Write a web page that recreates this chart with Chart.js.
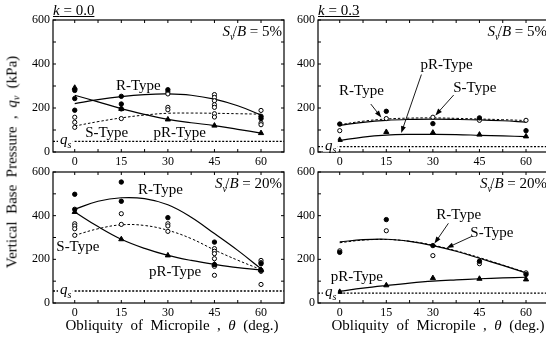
<!DOCTYPE html>
<html>
<head>
<meta charset="utf-8">
<script src="https://cdn.jsdelivr.net/npm/chart.js@4.4.1/dist/chart.umd.min.js"></script>
<style>
  html, body { margin: 0; padding: 0; background: #fff; }
  body {
    position: relative; width: 546px; height: 338px; overflow: hidden;
    font-family: "Liberation Serif", "Times New Roman", serif; color: #000;
  }
  canvas { position: absolute; }
  .txt { position: absolute; font-size: 15px; white-space: pre; line-height: 1; }
  .txt sub { font-size: 10px; vertical-align: -3px; }
  .klab { text-decoration: underline; }
  #ytitle { left: 13px; top: 162px; transform: translate(-50%, -50%) rotate(-90deg); }
  .xtitle { top: 318px; transform: translateX(-50%); }
</style>
</head>
<body>
<canvas id="tl" width="290" height="170" style="left:0;top:0"></canvas>
<canvas id="tr" width="290" height="170" style="left:265px;top:0"></canvas>
<canvas id="bl" width="290" height="168" style="left:0;top:152px"></canvas>
<canvas id="br" width="290" height="168" style="left:265px;top:152px"></canvas>

<div class="txt klab" style="left:53px;top:3px"><i>k</i> = 0.0</div>
<div class="txt klab" style="left:318px;top:3px"><i>k</i> = 0.3</div>
<div class="txt" id="ytitle">Vertical  Base  Pressure  ,  <i>q</i><sub><i>v</i></sub>  (kPa)</div>
<div class="txt xtitle" style="left:172px">Obliquity  of  Micropile  ,  <i>θ</i>  (deg.)</div>
<div class="txt xtitle" style="left:438px">Obliquity  of  Micropile  ,  <i>θ</i>  (deg.)</div>

<script>
// ---------- Data ----------
const curveAngles = [0, 7.5, 15, 22.5, 30, 37.5, 45, 52.5, 60];
const xTickVals = [0, 7.5, 15, 22.5, 30, 37.5, 45, 52.5, 60];
const yTickVals = [0, 100, 200, 300, 400, 500, 600];

// k = 0.0, Sv/B = 5%
const tlRPoints = [[0, 280], [0, 243], [0, 190], [15, 253], [15, 218], [15, 196], [30, 283], [60, 162], [60, 152]];
const tlSPoints = [[0, 158], [0, 135], [0, 112], [15, 152], [30, 273], [30, 264], [30, 203], [30, 192],
  [45, 261], [45, 248], [45, 233], [45, 215], [45, 203], [45, 174], [45, 159], [60, 189], [60, 132], [60, 124]];
const tlPRPoints = [[0, 292], [15, 196], [30, 148], [45, 120], [60, 86]];
const tlRCurve = [220, 238, 252, 261, 264, 258, 240, 210, 168];
const tlSCurve = [118, 138, 155, 168, 176, 177, 176, 174, 172];
const tlPRCurve = [258, 228, 197, 171, 148, 133, 120, 103, 86];
const tlQs = 48;

// k = 0.3, Sv/B = 5%
const trRPoints = [[0, 127], [15, 185], [30, 129], [45, 155], [60, 97]];
const trSPoints = [[0, 97], [15, 152], [30, 158], [45, 144], [60, 144]];
const trPRPoints = [[0, 55], [15, 91], [30, 88], [45, 79], [60, 71]];
const trRCurve = [121, 135, 144, 148, 149, 148, 146, 142, 136];
const trSCurve = [124, 140, 150, 154, 155, 153, 150, 147, 143];
const trPRCurve = [52, 68, 77, 80, 80, 79, 76, 73, 70];
const trQs = 24;

// k = 0.0, Sv/B = 20%
const blRPoints = [[0, 498], [0, 429], [15, 554], [15, 466], [30, 391], [45, 279], [45, 176], [60, 180], [60, 150]];
const blSPoints = [[0, 363], [0, 353], [0, 340], [0, 310], [15, 409], [15, 360], [30, 363], [30, 353], [30, 328],
  [45, 249], [45, 237], [45, 226], [45, 203], [45, 168], [45, 127], [60, 195], [60, 185], [60, 145], [60, 85]];
const blPRPoints = [[0, 417], [15, 292], [30, 218], [45, 176], [60, 152]];
const blRCurve = [429, 466, 482, 478, 450, 393, 318, 241, 157];
const blSCurve = [310, 340, 358, 355, 333, 295, 243, 196, 153];
const blPRCurve = [417, 350, 292, 250, 218, 195, 177, 162, 152];
const blQs = 55;

// k = 0.3, Sv/B = 20%
const brRPoints = [[0, 232], [15, 382], [30, 263], [45, 191], [60, 131]];
const brSPoints = [[0, 239], [15, 331], [30, 217], [45, 180], [60, 138]];
const brPRPoints = [[0, 51], [15, 81], [30, 114], [45, 111], [60, 108]];
const brRCurve = [280, 290, 292, 282, 263, 237, 205, 172, 138];
const brSCurve = [276, 288, 291, 283, 265, 239, 208, 174, 140];
const brPRCurve = [54, 68, 80, 91, 100, 106, 111, 115, 118];
const brQs = 45;

const X_MIN = -7, X_MAX = 67.4;
const FONT = '"Liberation Serif", "Times New Roman", serif';

// ---------- Helpers ----------
const pts = arr => arr.map(([x, y]) => ({ x, y }));
const curve = vals => vals.map((y, i) => ({ x: curveAngles[i], y }));
const plain = t => [{ t }];
const svb = pct => [{ t: 'S', i: 1 }, { t: 'v', i: 1, sub: 1 }, { t: '/' }, { t: 'B', i: 1 }, { t: ' = ' + pct }];
const qsRuns = [{ t: 'q', i: 1 }, { t: 's', i: 1, sub: 1 }];

function runFont(r) {
  return (r.i ? 'italic ' : '') + (r.sub ? '10px ' : '15px ') + FONT;
}

function drawRuns(ctx, runs, x, y, align, bg) {
  let w = 0;
  runs.forEach(r => {
    ctx.font = runFont(r);
    r.w = ctx.measureText(r.t).width * (r.sub ? 0.6 : 1);
    w += r.w;
  });
  let cx = align === 'right' ? x - w : align === 'center' ? x - w / 2 : x;
  if (bg) {
    ctx.fillStyle = '#fff';
    ctx.fillRect(cx - 2, y - 6, w + 5, 12);
  }
  ctx.fillStyle = '#000';
  ctx.textBaseline = 'middle';
  ctx.textAlign = 'left';
  runs.forEach(r => {
    ctx.font = runFont(r);
    ctx.fillText(r.t, cx, y + (r.sub ? 5 : 0));
    cx += r.w;
  });
}

function drawArrow(ctx, x1, y1, x2, y2) {
  const ang = Math.atan2(y2 - y1, x2 - x1);
  ctx.beginPath();
  ctx.moveTo(x1, y1);
  ctx.lineTo(x2 - 4 * Math.cos(ang), y2 - 4 * Math.sin(ang));
  ctx.stroke();
  ctx.beginPath();
  ctx.moveTo(x2, y2);
  ctx.lineTo(x2 - 7 * Math.cos(ang) + 2.5 * Math.sin(ang), y2 - 7 * Math.sin(ang) - 2.5 * Math.cos(ang));
  ctx.lineTo(x2 - 7 * Math.cos(ang) - 2.5 * Math.sin(ang), y2 - 7 * Math.sin(ang) + 2.5 * Math.cos(ang));
  ctx.closePath();
  ctx.fill();
}

// frame, inward ticks, labels and arrows
function framePlugin(notes) {
  return {
    id: 'frame',
    afterDatasetsDraw(chart) {
      const { ctx, chartArea: a, scales: { x, y } } = chart;
      ctx.save();
      ctx.strokeStyle = '#000';
      ctx.fillStyle = '#000';
      ctx.lineWidth = 1.2;
      ctx.strokeRect(a.left, a.top, a.right - a.left, a.bottom - a.top);
      ctx.lineWidth = 1;
      ctx.beginPath();
      x.ticks.forEach(t => {
        const px = x.getPixelForValue(t.value);
        ctx.moveTo(px, a.bottom); ctx.lineTo(px, a.bottom - 3);
        ctx.moveTo(px, a.top); ctx.lineTo(px, a.top + 3);
      });
      y.ticks.forEach(t => {
        const py = y.getPixelForValue(t.value);
        ctx.moveTo(a.left, py); ctx.lineTo(a.left + 3, py);
        ctx.moveTo(a.right, py); ctx.lineTo(a.right - 3, py);
      });
      ctx.stroke();

      // q_s label sits on the dotted line
      drawRuns(ctx, qsRuns, a.left + 7, y.getPixelForValue(notes.qs) - 1, 'left', true);
      // S_v/B label in the top right corner
      drawRuns(ctx, svb(notes.pct), a.right - 2, a.top + 12, 'right');

      notes.labels.forEach(l => {
        drawRuns(ctx, plain(l.t), x.getPixelForValue(l.x), y.getPixelForValue(l.y), 'center');
      });
      ctx.lineWidth = 0.9;
      (notes.arrows || []).forEach(ar => {
        drawArrow(ctx, x.getPixelForValue(ar[0]), y.getPixelForValue(ar[1]),
          x.getPixelForValue(ar[2]), y.getPixelForValue(ar[3]));
      });
      ctx.restore();
    }
  };
}

function makePanel(id, d) {
  const lineDs = (data, dash, w) => ({
    data, showLine: true, pointRadius: 0, borderColor: '#000', borderWidth: w,
    borderDash: dash, tension: 0.4, fill: false, order: 5
  });
  return new Chart(document.getElementById(id), {
    type: 'scatter',
    data: {
      datasets: [
        { data: pts(d.pR), pointStyle: 'triangle', pointRadius: 3, backgroundColor: '#000', borderColor: '#000', borderWidth: 1, order: 1 },
        { data: pts(d.r), pointStyle: 'circle', pointRadius: 2.2, backgroundColor: '#000', borderColor: '#000', borderWidth: 1, order: 2 },
        { data: pts(d.s), pointStyle: 'circle', pointRadius: 2.1, backgroundColor: '#fff', borderColor: '#000', borderWidth: 1, order: 3 },
        lineDs(curve(d.rCurve), [], 1.2),
        lineDs(curve(d.sCurve), [2.5, 2], 1),
        lineDs(curve(d.prCurve), [], 1.2),
        { data: [{ x: X_MIN, y: d.qs }, { x: X_MAX, y: d.qs }], showLine: true, pointRadius: 0,
          borderColor: '#000', borderWidth: 1.3, borderDash: [2, 1.6], order: 6 }
      ]
    },
    options: {
      responsive: false,
      animation: false,
      layout: { padding: { top: d.padTop, right: 6, left: 0, bottom: 0 } },
      plugins: { legend: { display: false }, tooltip: { enabled: false } },
      scales: {
        x: {
          type: 'linear', min: X_MIN, max: X_MAX,
          afterBuildTicks: s => { s.ticks = xTickVals.map(v => ({ value: v })); },
          afterFit: s => { s.height = d.xAxisH; },
          grid: { display: false, drawTicks: false },
          border: { display: false },
          ticks: {
            autoSkip: false, maxRotation: 0, padding: 3, color: '#000',
            font: { family: FONT, size: 12 },
            callback: v => (v % 15 === 0 ? String(v) : '')
          }
        },
        y: {
          type: 'linear', min: 0, max: 600,
          afterBuildTicks: s => { s.ticks = yTickVals.map(v => ({ value: v })); },
          afterFit: s => { s.width = 53; },
          grid: { display: false, drawTicks: false },
          border: { display: false },
          ticks: {
            autoSkip: false, padding: 3, color: '#000',
            font: { family: FONT, size: 12 },
            callback: v => (v % 200 === 0 ? String(v) : '')
          }
        }
      }
    },
    plugins: [framePlugin(d.notes)]
  });
}

// ---------- Panels ----------
makePanel('tl', {
  r: tlRPoints, s: tlSPoints, pR: tlPRPoints,
  rCurve: tlRCurve, sCurve: tlSCurve, prCurve: tlPRCurve, qs: tlQs,
  padTop: 20, xAxisH: 18,
  notes: {
    qs: tlQs, pct: '5%',
    labels: [{ t: 'R-Type', x: 20.5, y: 300 }, { t: 'S-Type', x: 10.3, y: 84 }, { t: 'pR-Type', x: 33.8, y: 84 }]
  }
});

makePanel('tr', {
  r: trRPoints, s: trSPoints, pR: trPRPoints,
  rCurve: trRCurve, sCurve: trSCurve, prCurve: trPRCurve, qs: trQs,
  padTop: 20, xAxisH: 18,
  notes: {
    qs: trQs, pct: '5%',
    labels: [{ t: 'R-Type', x: 7, y: 277 }, { t: 'pR-Type', x: 34.4, y: 395 }, { t: 'S-Type', x: 43.5, y: 291 }],
    arrows: [[10, 218, 13.4, 157], [26.3, 352, 19.8, 86], [36.7, 259, 30.8, 166]]
  }
});

makePanel('bl', {
  r: blRPoints, s: blSPoints, pR: blPRPoints,
  rCurve: blRCurve, sCurve: blSCurve, prCurve: blPRCurve, qs: blQs,
  padTop: 20, xAxisH: 17,
  notes: {
    qs: blQs, pct: '20%',
    labels: [{ t: 'R-Type', x: 27.6, y: 516 }, { t: 'S-Type', x: 1, y: 255 }, { t: 'pR-Type', x: 32.3, y: 141 }]
  }
});

makePanel('br', {
  r: brRPoints, s: brSPoints, pR: brPRPoints,
  rCurve: brRCurve, sCurve: brSCurve, prCurve: brPRCurve, qs: brQs,
  padTop: 20, xAxisH: 17,
  notes: {
    qs: brQs, pct: '20%',
    labels: [{ t: 'R-Type', x: 38.3, y: 402 }, { t: 'S-Type', x: 49, y: 319 }, { t: 'pR-Type', x: 5.5, y: 117 }],
    arrows: [[35, 365, 30.5, 272], [42.5, 305, 34.4, 252]]
  }
});
</script>
</body>
</html>
